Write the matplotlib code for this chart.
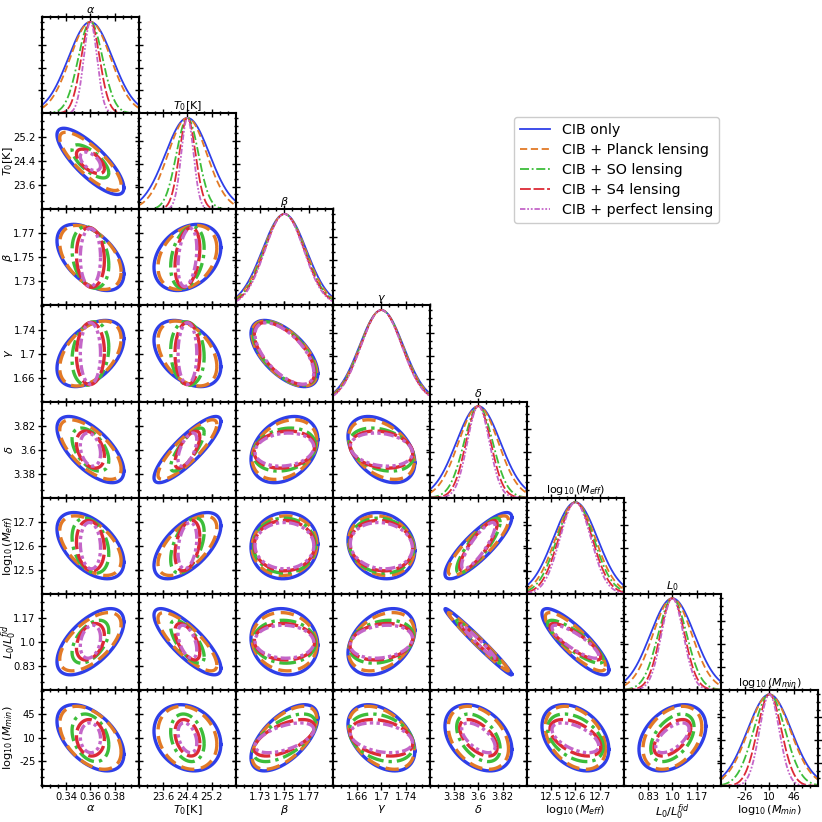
import numpy as np
import matplotlib
matplotlib.use('Agg')
import matplotlib.pyplot as plt
from matplotlib.ticker import FixedLocator

# parameter names, fiducial values
titles = [r'$\alpha$', r'$T_0$[K]', r'$\beta$', r'$\gamma$', r'$\delta$',
          r'$\log_{10}(M_{eff})$', r'$L_0$', r'$\log_{10}(M_{min})$']
axis_labels = [r'$\alpha$', r'$T_0$[K]', r'$\beta$', r'$\gamma$', r'$\delta$',
               r'$\log_{10}(M_{eff})$', r'$L_0/L_0^{fid}$', r'$\log_{10}(M_{min})$']
fiducial = [0.36, 24.4, 1.75, 1.70, 3.60, 12.6, 1.0, 10.0]

# tick labels (bottom axes and left axes)
xtick_vals = [[0.34, 0.36, 0.38], [23.6, 24.4, 25.2], [1.73, 1.75, 1.77],
              [1.66, 1.70, 1.74], [3.38, 3.60, 3.82], [12.5, 12.6, 12.7],
              [0.83, 1.0, 1.17], [-26, 10, 46]]
xtick_text = [['0.34', '0.36', '0.38'], ['23.6', '24.4', '25.2'], ['1.73', '1.75', '1.77'],
              ['1.66', '1.7', '1.74'], ['3.38', '3.6', '3.82'], ['12.5', '12.6', '12.7'],
              ['0.83', '1.0', '1.17'], ['-26', '10', '46']]
ytick_vals = [None, [23.6, 24.4, 25.2], [1.73, 1.75, 1.77], [1.66, 1.70, 1.74],
              [3.38, 3.60, 3.82], [12.5, 12.6, 12.7], [0.83, 1.0, 1.17], [-25, 10, 45]]
ytick_text = [None, ['23.6', '24.4', '25.2'], ['1.73', '1.75', '1.77'], ['1.66', '1.7', '1.74'],
              ['3.38', '3.6', '3.82'], ['12.5', '12.6', '12.7'], ['0.83', '1.0', '1.17'],
              ['-25', '10', '45']]

# marginalised 1-sigma errors for each experiment
sig_cib = [0.0182, 0.727, 0.0182, 0.0364, 0.200, 0.0909, 0.1545, 32.7]
sig_planck = [0.0167, 0.640, 0.0176, 0.0357, 0.180, 0.0818, 0.136, 31.1]
sig_so = [0.0100, 0.364, 0.0169, 0.0349, 0.130, 0.0755, 0.100, 23.5]
sig_s4 = [0.0076, 0.269, 0.0164, 0.0342, 0.112, 0.0691, 0.085, 18.0]
sig_perfect = [0.0055, 0.204, 0.0160, 0.0338, 0.100, 0.0636, 0.077, 14.7]

# correlation coefficients, pairs (1,0),(2,0),(2,1),(3,0),...,(7,6)
rho_cib = [-0.8, -0.5, 0.3, 0.45, -0.4, -0.6, -0.65, 0.85, 0.3, -0.4,
           -0.5, 0.6, 0.05, -0.15, 0.85, 0.6, -0.8, -0.1, 0.35, -0.985, -0.85,
           -0.5, -0.2, 0.6, -0.4, -0.35, -0.35, 0.35]
rho_planck = [-0.8, -0.45, 0.3, 0.45, -0.4, -0.6, -0.65, 0.85, 0.3, -0.4,
              -0.5, 0.6, 0.05, -0.15, 0.85, 0.6, -0.8, -0.1, 0.35, -0.985, -0.85,
              -0.45, -0.2, 0.6, -0.4, -0.35, -0.35, 0.35]
rho_so = [-0.7, -0.25, 0.3, 0.2, -0.1, -0.6, -0.5, 0.8, 0.2, -0.3,
          -0.3, 0.5, 0.0, -0.1, 0.85, 0.5, -0.7, -0.05, 0.25, -0.985, -0.85,
          -0.3, -0.25, 0.6, -0.3, -0.45, -0.4, 0.45]
rho_s4 = [-0.6, -0.1, 0.3, 0.05, 0.0, -0.62, -0.35, 0.7, 0.15, -0.2,
          -0.15, 0.35, 0.0, -0.1, 0.85, 0.35, -0.6, -0.05, 0.2, -0.985, -0.85,
          -0.1, -0.3, 0.6, -0.3, -0.55, -0.5, 0.55]
rho_perfect = [-0.5, 0.0, 0.3, 0.0, 0.0, -0.62, -0.25, 0.6, 0.15, -0.2,
               -0.1, 0.3, 0.0, -0.1, 0.85, 0.25, -0.5, -0.05, 0.2, -0.985, -0.85,
               -0.05, -0.35, 0.55, -0.3, -0.6, -0.55, 0.6]

labels = ['CIB only', 'CIB + Planck lensing', 'CIB + SO lensing',
          'CIB + S4 lensing', 'CIB + perfect lensing']
colors = ['#2f3fe8', '#e27a26', '#3dbd3a', '#dc2a36', '#c466c8']
styles = ['-', (0, (4, 2)), (0, (5, 1.5, 1, 1.5)), (0, (6, 1.5)), (0, (3, 1, 1, 1, 1, 1))]

sigmas = [sig_cib, sig_planck, sig_so, sig_s4, sig_perfect]
rhos = [rho_cib, rho_planck, rho_so, rho_s4, rho_perfect]

npar = len(fiducial)
pairs = [(i, j) for i in range(1, npar) for j in range(i)]

fig, axes = plt.subplots(npar, npar, figsize=(8.22, 8.22), dpi=100)
plt.subplots_adjust(left=0.051, right=0.995, bottom=0.044, top=0.979, wspace=0, hspace=0)

lims = [(fiducial[k] - 2.2 * sig_cib[k], fiducial[k] + 2.2 * sig_cib[k]) for k in range(npar)]


def minor_ticks(vals, lim):
    step = (vals[1] - vals[0]) / 3.0
    k = np.arange(-20, 21)
    t = vals[1] + k * step
    return t[(t >= lim[0]) & (t <= lim[1])]


def style_axis(ax):
    for s in ax.spines.values():
        s.set_linewidth(1.5)
    ax.tick_params(which='both', direction='inout', top=True, right=True, labelsize=7.2,
                   width=1, pad=1.5)
    ax.tick_params(which='major', length=6)
    ax.tick_params(which='minor', length=3.5)


t = np.linspace(0, 2 * np.pi, 300)
circle = np.vstack([np.cos(t), np.sin(t)]) * np.sqrt(2.3)

for i in range(npar):
    for j in range(npar):
        ax = axes[i, j]
        if j > i:
            ax.axis('off')
            continue
        style_axis(ax)
        ax.set_xlim(lims[j])
        ax.xaxis.set_major_locator(FixedLocator(xtick_vals[j]))
        ax.xaxis.set_minor_locator(FixedLocator(minor_ticks(xtick_vals[j], lims[j])))
        if i == j:
            x = np.linspace(lims[j][0], lims[j][1], 300)
            for e in range(5):
                s = sigmas[e][j]
                ax.plot(x, np.exp(-0.5 * ((x - fiducial[j]) / s) ** 2), color=colors[e],
                        ls=styles[e], lw=1.3, label=labels[e])
            ax.set_ylim(0, 1.05)
            ax.yaxis.set_major_locator(FixedLocator([0.25, 0.5, 0.75]))
            ax.yaxis.set_minor_locator(FixedLocator(np.arange(1, 13) / 12.0))
            ax.set_yticklabels([])
            ax.set_title(titles[j], fontsize=8, pad=3)
        else:
            p = pairs.index((i, j))
            for e in range(5):
                sx, sy, r = sigmas[e][j], sigmas[e][i], rhos[e][p]
                cov = np.array([[sx ** 2, r * sx * sy], [r * sx * sy, sy ** 2]])
                L = np.linalg.cholesky(cov)
                pts = L @ circle
                ax.plot(fiducial[j] + pts[0], fiducial[i] + pts[1], color=colors[e],
                        ls=styles[e], lw=2.4)
            ax.set_ylim(lims[i])
            ax.yaxis.set_major_locator(FixedLocator(ytick_vals[i]))
            ax.yaxis.set_minor_locator(FixedLocator(minor_ticks(ytick_vals[i], lims[i])))
            if j == 0:
                ax.set_yticklabels(ytick_text[i])
                ax.set_ylabel(axis_labels[i], fontsize=8.2)
                # the L0 label has a superscript, nudge it in from the edge
                ax.yaxis.set_label_coords(-0.235 if i == 6 else -0.28, 0.5)
            else:
                ax.set_yticklabels([])
        if i == npar - 1:
            ax.set_xticklabels(xtick_text[j])
            ax.set_xlabel(axis_labels[j], fontsize=8.2, labelpad=0.5)
        else:
            ax.set_xticklabels([])

handles, leg_labels = axes[0, 0].get_legend_handles_labels()
fig.legend(handles, leg_labels, loc='upper left', bbox_to_anchor=(0.617, 0.866),
           fontsize=10.3, handlelength=2.1, labelspacing=0.42, framealpha=1)

plt.savefig('out.png', dpi=100)
